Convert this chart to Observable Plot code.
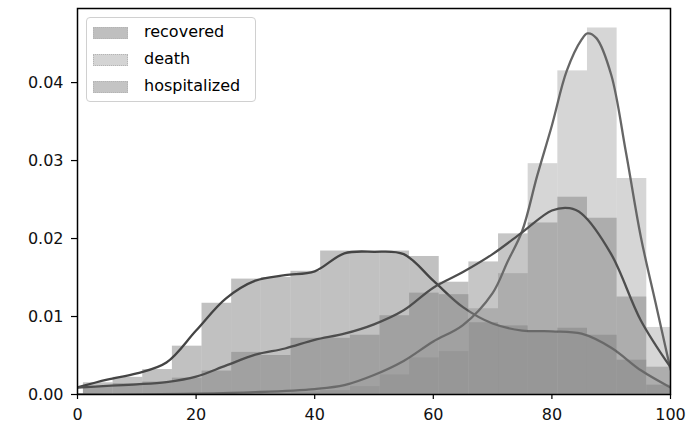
<!DOCTYPE html>
<html><head><meta charset="utf-8">
<script src="https://cdn.jsdelivr.net/npm/d3@7"></script>
<script src="https://cdn.jsdelivr.net/npm/@observablehq/plot@0.6"></script>
<style>
body{margin:0;background:#fff;}
#wrap{position:relative;width:695px;height:424px;font-family:"DejaVu Sans",sans-serif;}
#legend{position:absolute;left:86px;top:17px;width:170px;height:85px;border:1px solid #d0d0d0;border-radius:4px;background:rgba(255,255,255,0.8);box-sizing:border-box;}
.sw{position:absolute;left:6px;width:35px;height:12px;box-sizing:border-box;border:1px dotted #b4b4b4;}
.lab{position:absolute;left:57px;font-size:16px;line-height:18px;height:18px;color:#000;white-space:nowrap;}
</style>
</head><body>
<div id="wrap"><div id="chart"></div><div id="legend"></div></div>
<script>
// ---- data ----
const seriesNames = ["recovered", "death", "hospitalized"];
const binEdges = [1, 6, 11, 16, 21, 26, 31, 36, 41, 46, 51, 56, 61, 66, 71, 76, 81, 86, 91, 96, 101];
const histRecovered = [0.0015, 0.0022, 0.0032, 0.0062, 0.0117, 0.0148, 0.0150, 0.0158, 0.0184, 0.0184, 0.0184, 0.0177, 0.0144, 0.0092, 0.0088, 0.0080, 0.0085, 0.0076, 0.0044, 0.0012];
const histDeath = [0, 0, 0, 0, 0.0001, 0.0001, 0.0002, 0.0003, 0.0005, 0.0010, 0.0025, 0.0047, 0.0055, 0.0110, 0.0155, 0.0296, 0.0415, 0.0470, 0.0277, 0.0086];
const histHospitalized = [0.0010, 0.0014, 0.0016, 0.0021, 0.0030, 0.0054, 0.0050, 0.0072, 0.0072, 0.0076, 0.0101, 0.0130, 0.0128, 0.0170, 0.0206, 0.0220, 0.0253, 0.0226, 0.0125, 0.0035];

const kdeRecoveredX = [0, 5, 10, 15, 20, 25, 30, 35, 40, 45, 50, 55, 60, 65, 70, 75, 80, 85, 90, 95, 100];
const kdeRecoveredY = [0.0009, 0.0019, 0.0027, 0.0041, 0.0082, 0.0123, 0.0146, 0.0153, 0.0158, 0.0181, 0.0183, 0.0180, 0.0146, 0.0112, 0.0091, 0.0082, 0.0081, 0.0078, 0.0060, 0.0031, 0.0009];
const kdeDeathX = [0, 10, 20, 30, 40, 45, 50, 55, 60, 65, 70, 72.5, 75, 77.5, 80, 82.5, 85, 86, 87.5, 90, 92.5, 95, 97.5, 100];
const kdeDeathY = [0, 0, 0.0001, 0.0003, 0.0007, 0.0012, 0.0025, 0.0043, 0.0068, 0.0089, 0.0130, 0.0170, 0.0210, 0.0280, 0.0345, 0.0415, 0.0455, 0.0463, 0.0457, 0.0410, 0.0310, 0.0202, 0.0117, 0.0032];
const kdeHospX = [0, 5, 10, 15, 20, 25, 30, 35, 40, 45, 50, 55, 60, 65, 70, 75, 80, 83, 85, 90, 95, 100];
const kdeHospY = [0.0009, 0.0011, 0.0013, 0.0016, 0.0023, 0.0037, 0.0051, 0.0059, 0.0070, 0.0078, 0.0090, 0.0108, 0.0137, 0.0157, 0.0180, 0.0208, 0.0236, 0.0239, 0.0232, 0.0180, 0.0095, 0.0035];

const xTicks = [0, 20, 40, 60, 80, 100];
const yTicks = [0, 0.01, 0.02, 0.03, 0.04];

// ---- styles ----
const histFill = {recovered: "#646464", death: "#989898", hospitalized: "#707070"};
const lineStroke = {recovered: "#444444", death: "#666666", hospitalized: "#4e4e4e"};
const legendSwatch = {recovered: "#bfbfbf", death: "#d4d4d4", hospitalized: "#c4c4c4"};

const hists = {recovered: histRecovered, death: histDeath, hospitalized: histHospitalized};
const kdes = {
  recovered: [kdeRecoveredX, kdeRecoveredY],
  death: [kdeDeathX, kdeDeathY],
  hospitalized: [kdeHospX, kdeHospY]
};

const marks = [];
for (const s of seriesNames) {
  const bars = hists[s].map((v, i) => ({x1: binEdges[i], x2: binEdges[i + 1], y: v}));
  marks.push(Plot.rectY(bars, {x1: "x1", x2: "x2", y: "y", fill: histFill[s], fillOpacity: 0.4, inset: 0, clip: true}));
  const [xs, ys] = kdes[s];
  const pts = xs.map((x, i) => ({x, y: ys[i]}));
  marks.push(Plot.line(pts, {x: "x", y: "y", stroke: lineStroke[s], strokeWidth: 2.3, curve: "catmull-rom", clip: true}));
}
marks.push(Plot.axisX({ticks: xTicks, tickSize: 5, tickPadding: 9, label: null, tickFormat: d => String(d), stroke: "#000", strokeWidth: 1.2}));
marks.push(Plot.axisY({ticks: yTicks, tickSize: 6, tickPadding: 8, label: null, tickFormat: d3.format(".2f"), stroke: "#000", strokeWidth: 1.2}));
marks.push(Plot.frame({stroke: "#000", strokeWidth: 1.5}));

const chart = Plot.plot({
  width: 695,
  height: 424,
  marginLeft: 77,
  marginRight: 25,
  marginTop: 8,
  marginBottom: 30,
  x: {domain: [0, 100]},
  y: {domain: [0, 0.0495]},
  style: {fontFamily: "DejaVu Sans", fontSize: "16px", color: "#111", background: "#fff"},
  marks
});
document.getElementById("chart").appendChild(chart);

const legend = document.getElementById("legend");
seriesNames.forEach((s, i) => {
  const cy = 15 + i * 27;
  const sw = document.createElement("div");
  sw.className = "sw";
  sw.style.top = (cy - 6) + "px";
  sw.style.background = legendSwatch[s];
  legend.appendChild(sw);
  const lab = document.createElement("div");
  lab.className = "lab";
  lab.style.top = (cy - 10) + "px";
  lab.textContent = s;
  legend.appendChild(lab);
});
</script>
</body></html>
